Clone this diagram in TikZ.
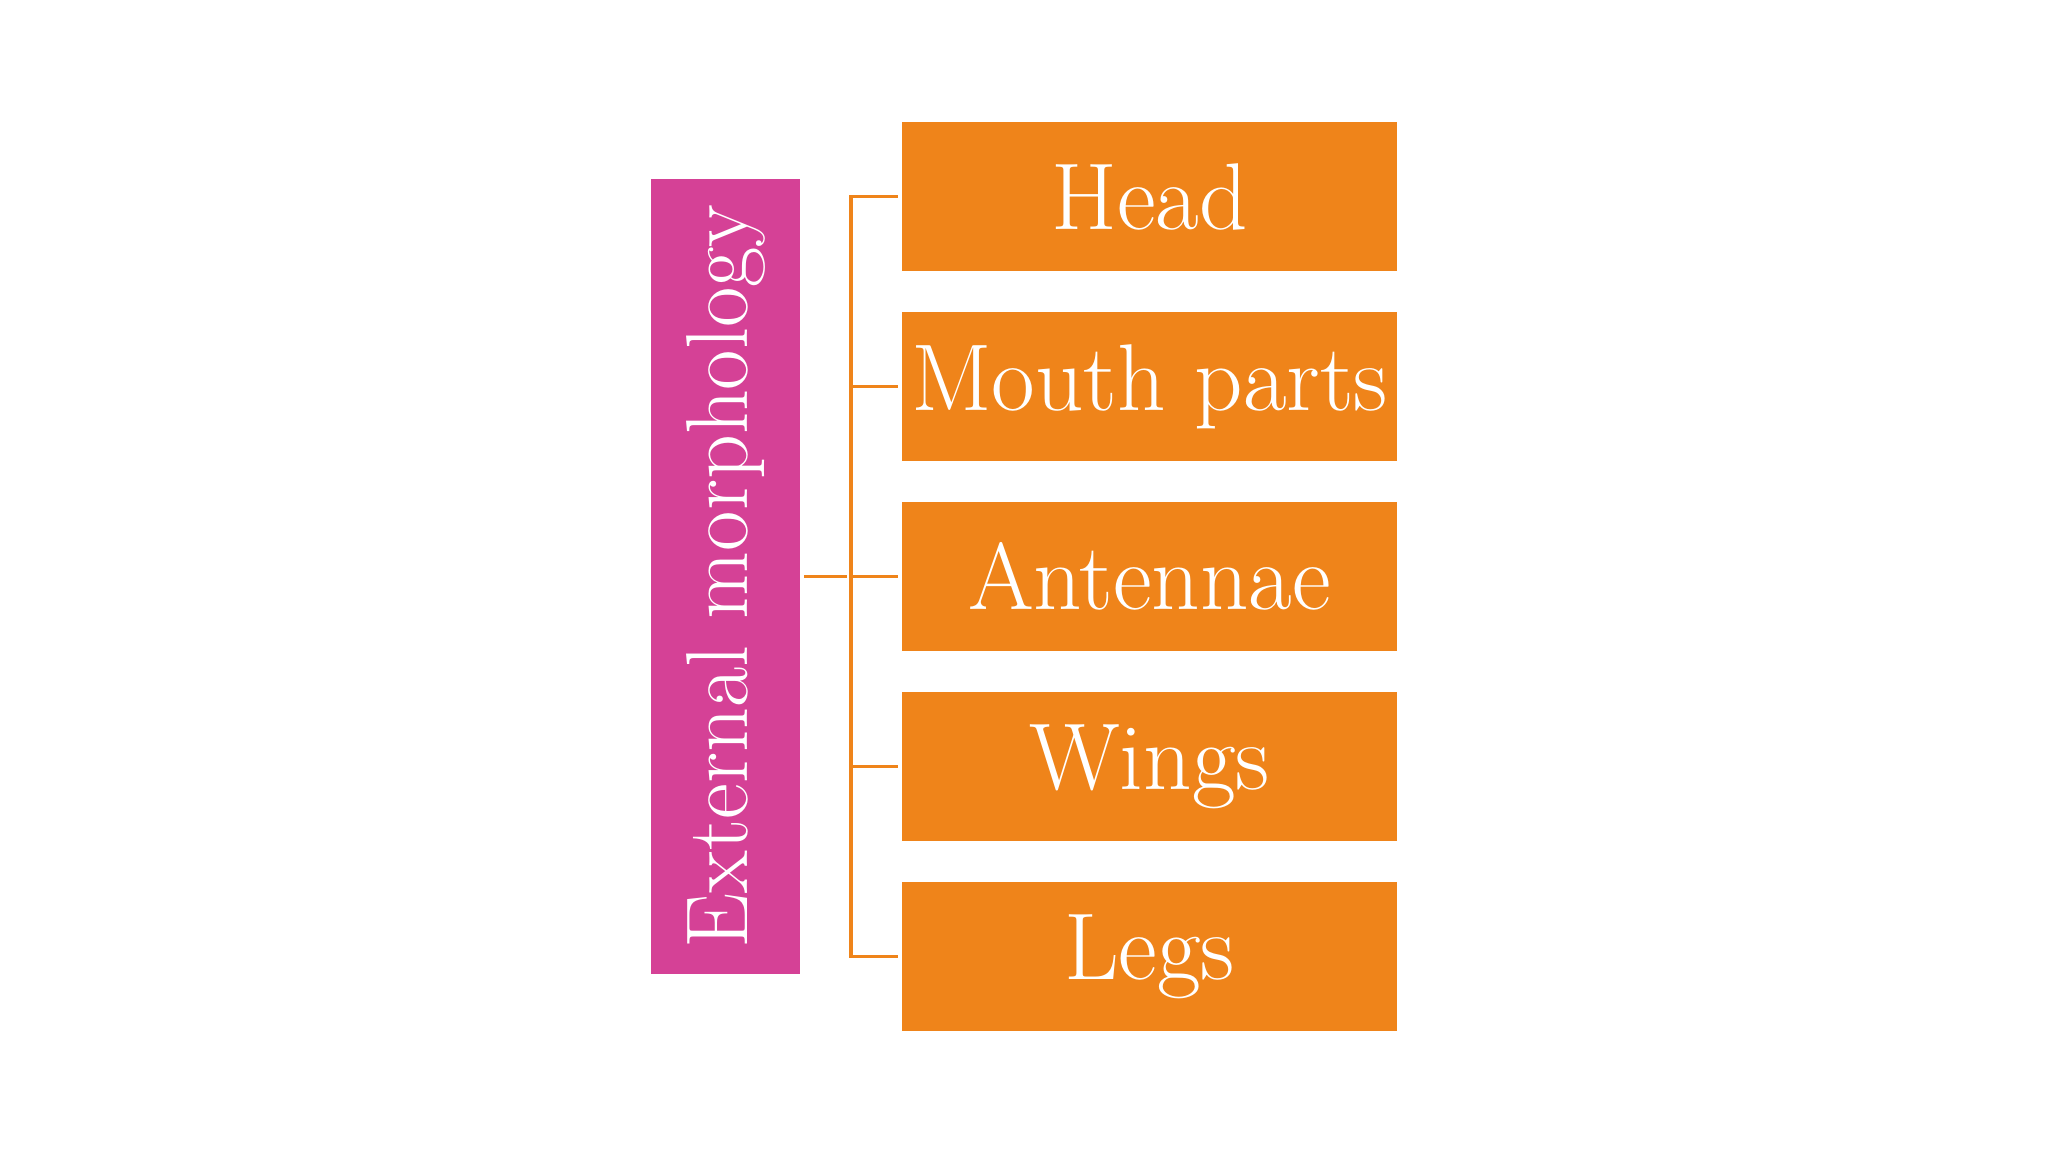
\documentclass[tikz,border=0pt]{standalone}
\usepackage{tikz}
\usetikzlibrary{positioning}
\definecolor{morphpink}{RGB}{213,65,150}
\definecolor{partorange}{RGB}{239,132,26}

\begin{document}
\begin{tikzpicture}[node distance=1.9cm,on grid,
    part/.style={fill=partorange,text=white,minimum width=4.95cm,minimum height=1.49cm,
      inner sep=0pt,font=\fontsize{27}{32}\selectfont},
    group/.style={fill=morphpink,text=white,minimum width=7.95cm,minimum height=1.49cm,
      inner sep=0pt,rotate=90,font=\fontsize{25}{30}\selectfont},
    conn/.style={draw=partorange,line width=0.9pt,shorten >=1pt}]
    \useasboundingbox (0,0) rectangle (20.48,-11.52);
    \node[group] (ext) at (7.255,-5.765) {External morphology};
    \node[part] (head) at (11.495,-1.965) {Head};
    \node[part] (mouth) [below = of head] {Mouth parts};
    \node[part] (antennae) [below = of mouth] {Antennae};
    \node[part] (wings) [below = of antennae] {Wings};
    \node[part] (legs) [below = of wings] {Legs};
    \coordinate (hub) at (8.51,-5.765);
    \draw[conn,shorten <=1pt] (ext.south) -- (hub);
    \foreach \n in {head,mouth,antennae,wings,legs}
      \draw[conn] (hub) |- (\n.west);
  \end{tikzpicture}
\end{document}
